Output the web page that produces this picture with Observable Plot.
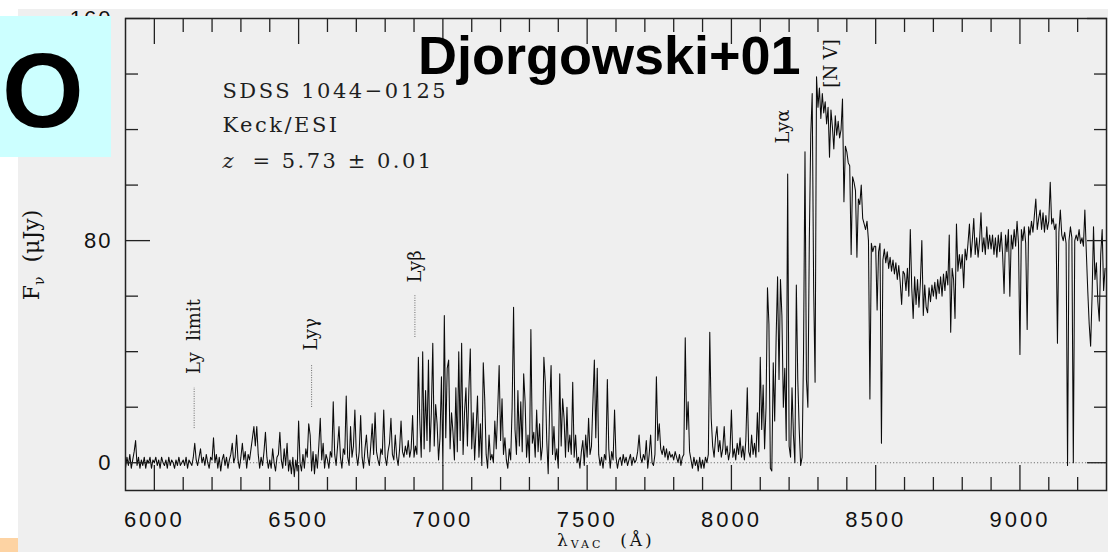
<!DOCTYPE html>
<html>
<head>
<meta charset="utf-8">
<script src="https://cdn.jsdelivr.net/npm/d3@7"></script>
<script src="https://cdn.jsdelivr.net/npm/@observablehq/plot@0.6"></script>
<style>
  html, body { margin: 0; padding: 0; background: #ffffff; }
  #stage { position: relative; width: 1108px; height: 552px; overflow: hidden; background: #ffffff; }
  #panel { position: absolute; left: 18px; top: 9px; right: 0; bottom: 0; background: #efefef; }
  #chart { position: absolute; left: 0; top: 0; }
  #badge { position: absolute; left: 0; top: 16px; width: 111px; height: 141px; background: #ccffff; }
  #badge span { position: absolute; left: 2px; top: 22px; font: bold 105px/105px "Liberation Sans", Arial, sans-serif; color: #000; }
  #title { position: absolute; left: 418px; top: 28px; font: bold 54px/54px "Liberation Sans", Arial, sans-serif; color: #000; white-space: nowrap; }
  #peach { position: absolute; left: 0; top: 538px; width: 18px; height: 14px; background: #fdd3a3; }
  .axlabel { position: absolute; font-family: "DejaVu Serif", serif; color: #111; white-space: pre; }
  .axlabel sub { line-height: 0; vertical-align: baseline; position: relative; }
  #ylabel { left: 32px; top: 255px; font-size: 22px; line-height: 22px; transform: translate(-50%, -50%) rotate(-90deg); }
  #ylabel sub { font-size: 14px; top: 5px; }
  /* baseline at ~547.5 px */
  #xlabel { left: 557px; top: 533px; font-size: 17px; line-height: 14px; letter-spacing: 3px; }
  #xlabel sub { font-size: 11px; top: 1.5px; }
</style>
</head>
<body>
<div id="stage">
  <div id="panel"></div>
  <div id="chart"></div>
  <div id="badge"><span>O</span></div>
  <div id="title">Djorgowski+01</div>
  <div id="peach"></div>
  <div id="ylabel" class="axlabel">F<sub>ν</sub>  (μJy)</div>
  <div id="xlabel" class="axlabel">λ<sub>VAC</sub>  (Å)</div>
</div>
<script>
// Spectrum flux (μJy), sampled every 5 Å, one array per 100 Å block
const flux5900 = [-2, 2, -1, 3, -2, 1, 4, 8, -1, 2, -2, 1, -1, 2, -2, 1, 0, 2, -2, 1];
const flux6000 = [0, 2, -1, 1, -2, 2, 0, -1, 1, -2, 2, -1, 1, 0, -2, 1, -1, 2, -1, 0];
const flux6100 = [1, -1, 2, -2, 1, 0, -1, 2, 7, 1, -1, 2, 5, 0, 2, -1, 3, 0, -2, 2];
const flux6200 = [1, 9, 0, 3, -2, 2, -3, 1, 3, -1, 2, -2, 1, 3, 7, 0, 2, 10, 1, -2];
const flux6300 = [2, 7, 1, 4, -2, 3, 1, 5, 9, 13, 6, 13, 3, -2, 2, -1, 4, 11, 2, -2];
const flux6400 = [1, -2, 5, 0, -3, 2, 3, 11, 1, -2, 5, -1, 7, -3, 1, -4, 2, -5, 1, -3];
const flux6500 = [15, 0, -3, 3, -2, 5, 2, 14, 10, -3, 4, -4, 3, -2, 6, 16, 1, 7, -2, 3];
const flux6600 = [1, -2, 4, 2, 22, 3, -1, 6, 13, 2, -2, 5, 3, 24, 2, -1, 13, 2, 6, 19];
const flux6700 = [3, -1, 4, 17, 2, -2, 5, 10, 2, -1, 6, 14, 3, 18, 4, 1, -1, 5, 3, 19];
const flux6800 = [2, -1, 4, 7, 16, 3, 1, 10, 2, -1, 5, 15, 4, 2, 6, 3, 8, 2, 5, 17];
const flux6900 = [2, 6, 3, 38, 15, 2, 40, 5, 26, 8, 37, 4, 18, 43, 6, 21, 14, 1, 9, 31];
const flux7000 = [-1, 53, 9, 34, 37, 5, 18, 11, 1, 27, 4, 40, 8, 43, 3, 18, 27, 6, 26, 41];
const flux7100 = [5, 18, 1, 12, 24, 2, 14, -1, 36, 23, 3, -2, 10, 1, 3, 0, 15, 5, 19, 35];
const flux7200 = [8, 23, 3, 9, 1, -2, 5, 1, 20, 56, 12, 3, 26, 6, 22, 4, 32, 22, 2, 10];
const flux7300 = [0, 48, 7, 11, 2, 19, 4, 14, 1, 6, 38, 29, 8, -4, 20, 35, 3, 13, 1, 5];
const flux7400 = [-2, 32, 6, 23, 16, 2, 20, 4, 10, 3, 29, 2, 10, 0, 2, -2, 4, 8, -1, 10];
const flux7500 = [2, 16, 3, 6, 22, 37, 9, 34, 3, -1, 2, -2, 3, 1, 30, 5, -2, 4, 1, 19];
const flux7600 = [2, -2, 1, 2, -1, 3, 0, 2, -1, 1, 3, -1, 2, 0, 1, 4, 10, 2, 0, 3];
const flux7700 = [1, 8, -2, 3, 10, 0, -1, 3, 31, 8, 14, 5, 3, 6, 2, 5, 1, 4, 2, 3];
const flux7800 = [1, 4, 2, 0, 3, -1, 2, 3, 45, 12, 22, 4, 1, -2, 2, -1, 1, -3, 2, -2];
const flux7900 = [1, -2, 2, 0, 3, 47, 16, 6, 2, 9, 13, 4, 8, 2, 5, 13, 3, 6, 1, 4];
const flux8000 = [19, 2, 5, 1, 7, 3, 9, 2, 6, 1, 8, 27, 4, 2, 10, 3, 7, 2, 18, 4];
const flux8100 = [38, 12, 28, 5, 20, 63, 50, -2, -3, 36, 15, 45, 67, 30, 66, 53, 20, 34, 8, 104];
const flux8200 = [6, 2, 27, 10, 0, 64, 30, 12, -1, 2, 40, 112, 30, 20, 80, 118, 133, 63, 29, 139];
const flux8300 = [128, 135, 124, 133, 126, 130, 122, 128, 110, 127, 121, 113, 125, 118, 123, 117, 120, 131, 94, 114];
const flux8400 = [112, 108, 107, 75, 103, 101, 98, 74, 95, 93, 100, 88, 86, 84, 87, 80, 23, 79, 76, 78];
const flux8500 = [78, 55, 76, 79, 7, 73, 77, 72, 76, 70, 74, 69, 73, 68, 72, 66, 71, 65, 57, 69];
const flux8600 = [68, 62, 70, 60, 84, 63, 52, 67, 57, 66, 56, 65, 80, 53, 64, 56, 54, 63, 58, 64];
const flux8700 = [60, 65, 59, 66, 61, 67, 60, 68, 62, 69, 64, 82, 47, 70, 66, 52, 86, 69, 75, 70];
const flux8800 = [75, 63, 77, 73, 79, 86, 74, 80, 88, 75, 81, 74, 80, 90, 76, 81, 75, 85, 77, 82];
const flux8900 = [77, 82, 75, 81, 74, 82, 76, 83, 75, 61, 82, 76, 84, 60, 82, 77, 84, 78, 87, 79];
const flux9000 = [39, 84, 80, 85, 79, 48, 85, 82, 87, 83, 89, 95, 84, 88, 91, 84, 90, 83, 89, 84];
const flux9100 = [87, 101, 86, 88, 84, 86, 43, 83, 91, 82, 80, 83, 79, -1, 80, 85, 81, 0, 80, 82];
const flux9200 = [80, 84, 79, 81, 78, 91, 76, 62, 50, 42, 60, 85, 66, 72, 58, 51, 75, 84, 62, 70];

const blockStarts = [5900, 6000, 6100, 6200, 6300, 6400, 6500, 6600, 6700, 6800, 6900, 7000, 7100, 7200, 7300, 7400, 7500,
  7600, 7700, 7800, 7900, 8000, 8100, 8200, 8300, 8400, 8500, 8600, 8700, 8800, 8900, 9000, 9100, 9200];
const fluxBlocks = [flux5900, flux6000, flux6100, flux6200, flux6300, flux6400, flux6500, flux6600, flux6700, flux6800,
  flux6900, flux7000, flux7100, flux7200, flux7300, flux7400, flux7500, flux7600, flux7700, flux7800, flux7900, flux8000,
  flux8100, flux8200, flux8300, flux8400, flux8500, flux8600, flux8700, flux8800, flux8900, flux9000, flux9100, flux9200];
const sampleStep = 5;

// Spectral line identifications (observed wavelength, Å)
const lineNames = ["Ly  limit", "Lyγ", "Lyβ", "Lyα", "[N V]"];
const lineWavelengths = [6138, 6545, 6903, 8181, 8345];
const lineLabelBase = [32, 40.4, 64.9, 115, 135.1];
const lineDotFrom = [12.3, 19.9, 45.1, null, null];
const lineDotTo = [27.1, 35.4, 60.2, null, null];

// Object info
const infoLabels = ["SDSS 1044\u22120125", "Keck/ESI"];
const redshiftSymbol = "z";
const redshiftValue = "=\u00a05.73\u00a0\u00b1\u00a00.01";

// Axis ticks
const xMajorTicks = [6000, 6500, 7000, 7500, 8000, 8500, 9000];
const xMinorTicks = [6100, 6200, 6300, 6400, 6600, 6700, 6800, 6900, 7100, 7200, 7300, 7400, 7600, 7700, 7800, 7900,
  8100, 8200, 8300, 8400, 8600, 8700, 8800, 8900, 9100, 9200];
const yMajorTicks = [0, 80, 160];
const yMinorTicks = [20, 40, 60, 100, 120, 140];

const spectrum = fluxBlocks.flatMap((vals, b) => vals.map((f, i) => ({lambda: blockStarts[b] + i * sampleStep, flux: f})));
const lineMarks = lineNames.map((name, i) => ({name, lambda: lineWavelengths[i], base: lineLabelBase[i], from: lineDotFrom[i], to: lineDotTo[i]}));
const dotted = lineMarks.filter(d => d.from != null);
const infoRows = [
  {text: infoLabels[0], lambda: 6236, flux: 131.5},
  {text: infoLabels[1], lambda: 6236, flux: 119.3},
  {text: redshiftValue, lambda: 6340, flux: 106.3}
];
const zRow = [{text: redshiftSymbol, lambda: 6236, flux: 106.3}];

const ink = "#222";
const serif = "'DejaVu Serif', serif";
const sans = "'Liberation Sans', Arial, sans-serif";

const chart = Plot.plot({
  width: 1108,
  height: 552,
  marginTop: 18,
  marginRight: 2,
  marginBottom: 62,
  marginLeft: 125,
  style: {background: "transparent", color: "#111", fontFamily: sans, fontSize: "22px"},
  x: {domain: [5900, 9300], axis: null},
  y: {domain: [-10, 160], axis: null},
  marks: [
    Plot.ruleY([0], {stroke: "#666", strokeWidth: 0.9, strokeDasharray: "1.2,2"}),
    Plot.line(spectrum, {x: "lambda", y: "flux", stroke: "#0a0a0a", strokeWidth: 1.05, clip: true}),
    Plot.ruleX(dotted, {x: "lambda", y1: "from", y2: "to", stroke: "#6a6a6a", strokeWidth: 1, strokeDasharray: "1,1.4"}),
    Plot.text(lineMarks, {x: "lambda", y: "base", text: "name", rotate: -90, textAnchor: "start", lineAnchor: "middle",
      fontFamily: serif, fontSize: 18, fill: "#111"}),
    Plot.text(infoRows, {x: "lambda", y: "flux", text: "text", textAnchor: "start", lineAnchor: "bottom",
      fontFamily: serif, fontSize: 21, fill: "#1e1e1e"}),
    Plot.text(zRow, {x: "lambda", y: "flux", text: "text", textAnchor: "start", lineAnchor: "bottom",
      fontFamily: serif, fontSize: 21, fontStyle: "italic", fill: "#1e1e1e"}),
    Plot.frame({stroke: ink, strokeWidth: 1.5}),
    Plot.axisX(xMajorTicks, {anchor: "bottom", tickSize: -25, fill: "none", stroke: ink, strokeWidth: 1.3, label: null}),
    Plot.axisX(xMinorTicks, {anchor: "bottom", tickSize: -13, fill: "none", stroke: ink, strokeWidth: 1.3, label: null}),
    Plot.axisX(xMajorTicks, {anchor: "top", tickSize: -25, fill: "none", stroke: ink, strokeWidth: 1.3, label: null}),
    Plot.axisX(xMinorTicks, {anchor: "top", tickSize: -13, fill: "none", stroke: ink, strokeWidth: 1.3, label: null}),
    Plot.axisY(yMajorTicks, {anchor: "left", tickSize: -25, fill: "none", stroke: ink, strokeWidth: 1.3, label: null}),
    Plot.axisY(yMinorTicks, {anchor: "left", tickSize: -13, fill: "none", stroke: ink, strokeWidth: 1.3, label: null}),
    Plot.axisY(yMajorTicks, {anchor: "right", tickSize: -20, fill: "none", stroke: ink, strokeWidth: 1.3, label: null}),
    Plot.axisY(yMinorTicks, {anchor: "right", tickSize: -13, fill: "none", stroke: ink, strokeWidth: 1.3, label: null}),
    Plot.axisX(xMajorTicks, {anchor: "bottom", tickSize: 0, tickPadding: 21, stroke: "none", fill: "#111", fontSize: 22, label: null, tickFormat: d => String(d)}),
    Plot.axisY(yMajorTicks, {anchor: "left", tickSize: 0, tickPadding: 13, stroke: "none", fill: "#111", fontSize: 22, label: null, tickFormat: d => String(d)})
  ]
});

document.getElementById("chart").appendChild(chart);

const spaced = new Set([...infoLabels, redshiftValue]);
const xLabelSet = new Set(xMajorTicks.map(String));
const yLabelSet = new Set(yMajorTicks.map(String));
d3.select(chart).selectAll("text").each(function () {
  const t = this.textContent;
  if (spaced.has(t)) this.style.letterSpacing = "2.5px";
  else if (xLabelSet.has(t)) this.style.letterSpacing = "3px";
  else if (yLabelSet.has(t)) this.style.letterSpacing = "2px";
});
</script>
</body>
</html>
